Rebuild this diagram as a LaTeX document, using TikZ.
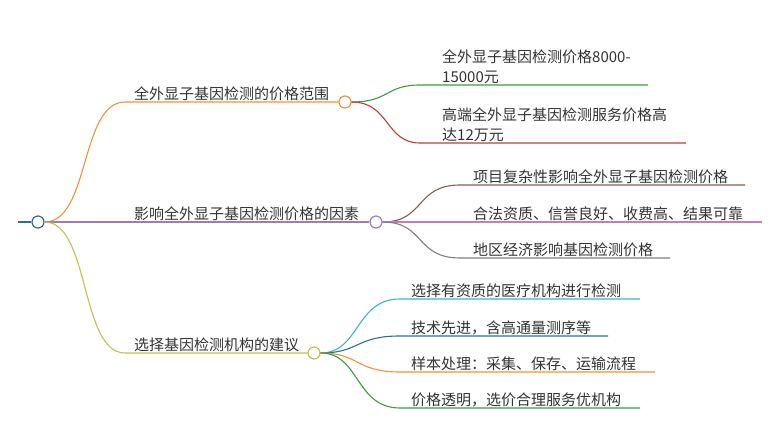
\documentclass[tikz,border=0pt]{standalone}
\usepackage{fontspec}
\setmainfont{Noto Sans CJK SC}
\begin{document}
\begin{tikzpicture}[x=1pt,y=-1pt,
  dot/.style={circle,draw=#1,fill=white,line width=1.2pt,minimum size=12pt,inner sep=0pt},
  lbl/.style={anchor=south west,inner sep=1pt,font=\fontsize{15}{20}\selectfont,text=black!80,align=left},
  br/.style={draw=#1,line width=1.1pt}]
\useasboundingbox (0,0) rectangle (780,441);
\definecolor{cRoot}{HTML}{2E6E8E}
\definecolor{cOr}{HTML}{F0933A}
\definecolor{cPu}{HTML}{9B7EB8}
\definecolor{cYe}{HTML}{C2C24E}
\definecolor{cGr}{HTML}{3E9B3E}
\definecolor{cRe}{HTML}{C03A3A}
\definecolor{cBr}{HTML}{8A5A4E}
\definecolor{cPk}{HTML}{C87CC0}
\definecolor{cGy}{HTML}{7F7F7F}
\definecolor{cTe}{HTML}{3BB6C0}
\definecolor{cBl}{HTML}{2E6E9E}
% root
\coordinate (stub) at (18,222);
\node[dot=cRoot] (root) at (38,222) {};
\draw[br=cRoot] (stub) -- (root.west);
% level 1
\node[dot=cOr] (a) at (345,102) {};
\node[dot=cPu] (b) at (376,222) {};
\node[dot=cYe] (c) at (314,353) {};
\coordinate (a0) at (125,102);
\coordinate (c0) at (125,353);
\node[lbl] (ta) at (133,102) {全外显子基因检测的价格范围};
\node[lbl] (tb) at (133,222) {影响全外显子基因检测价格的因素};
\node[lbl] (tc) at (133,353) {选择基因检测机构的建议};
\draw[br=cOr] (root.east) .. controls (90,222) and (80,102) .. (a0) -- (a.west);
\draw[br=cPu] (root.east) -- (b.west);
\draw[br=cYe] (root.east) .. controls (90,222) and (80,353) .. (c0) -- (c.west);
% level 2 under a
\coordinate (a1s) at (420,85); \coordinate (a1e) at (648,85);
\coordinate (a2s) at (420,143); \coordinate (a2e) at (686,143);
\node[lbl] (ta1) at (441,85) {全外显子基因检测价格8000-\\15000元};
\node[lbl] (ta2) at (441,143) {高端全外显子基因检测服务价格高\\达12万元};
\draw[br=cGr] (a.east) .. controls (390,102) and (385,85) .. (a1s) -- (a1e);
\draw[br=cRe] (a.east) .. controls (390,102) and (385,143) .. (a2s) -- (a2e);
% level 2 under b
\coordinate (b1s) at (460,185); \coordinate (b1e) at (745,185);
\coordinate (b2e) at (762,222);
\coordinate (b3s) at (460,258); \coordinate (b3e) at (670,258);
\node[lbl] (tb1) at (472,185) {项目复杂性影响全外显子基因检测价格};
\node[lbl] (tb2) at (472,222) {合法资质、信誉良好、收费高、结果可靠};
\node[lbl] (tb3) at (472,258) {地区经济影响基因检测价格};
\draw[br=cBr] (b.east) .. controls (425,222) and (415,185) .. (b1s) -- (b1e);
\draw[br=cPk] (b.east) -- (b2e);
\draw[br=cGy] (b.east) .. controls (425,222) and (415,258) .. (b3s) -- (b3e);
% level 2 under c
\coordinate (c1s) at (400,299); \coordinate (c1e) at (640,299);
\coordinate (c2s) at (400,336); \coordinate (c2e) at (608,336);
\coordinate (c3s) at (400,372); \coordinate (c3e) at (655,372);
\coordinate (c4s) at (400,408); \coordinate (c4e) at (640,408);
\node[lbl] (tc1) at (410,299) {选择有资质的医疗机构进行检测};
\node[lbl] (tc2) at (410,336) {技术先进，含高通量测序等};
\node[lbl] (tc3) at (410,372) {样本处理：采集、保存、运输流程};
\node[lbl] (tc4) at (410,408) {价格透明，选价合理服务优机构};
\draw[br=cTe] (c.east) .. controls (360,353) and (355,299) .. (c1s) -- (c1e);
\draw[br=cBl] (c.east) .. controls (360,353) and (355,336) .. (c2s) -- (c2e);
\draw[br=cOr] (c.east) .. controls (360,353) and (355,372) .. (c3s) -- (c3e);
\draw[br=cGr] (c.east) .. controls (360,353) and (355,408) .. (c4s) -- (c4e);
\end{tikzpicture}
\end{document}
